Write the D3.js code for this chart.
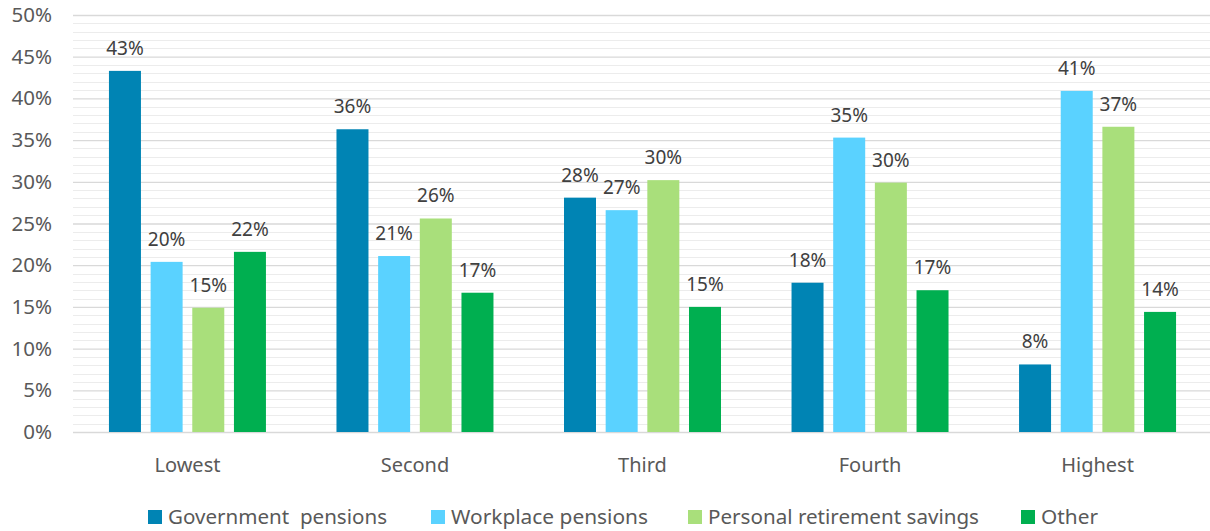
<!DOCTYPE html>
<html>
<head>
<meta charset="utf-8">
<script src="https://cdn.jsdelivr.net/npm/d3@7"></script>
<style>
  html, body { margin: 0; padding: 0; background: #fff; }
  svg { display: block; font-family: "Segoe UI", "Noto Sans", "DejaVu Sans", sans-serif; }
</style>
</head>
<body>
<svg id="chart" width="1210" height="531"></svg>
<script>
// Income quintiles
const categories = ["Lowest", "Second", "Third", "Fourth", "Highest"];

// Share of retirement income by source, per quintile
const seriesNames = ["Government  pensions", "Workplace pensions", "Personal retirement savings", "Other"];
const governmentPensions = [0.433, 0.363, 0.281, 0.179, 0.081];
const workplacePensions  = [0.204, 0.211, 0.266, 0.353, 0.409];
const personalSavings    = [0.149, 0.256, 0.302, 0.299, 0.366];
const otherIncome        = [0.216, 0.167, 0.150, 0.170, 0.144];

const yTicks = [0, 0.05, 0.10, 0.15, 0.20, 0.25, 0.30, 0.35, 0.40, 0.45, 0.50];
const colors = ["#0084B4", "#5AD2FF", "#A9DF7B", "#00AF50"];

const series = [governmentPensions, workplacePensions, personalSavings, otherIncome];

const svg = d3.select("#chart");
const plotLeft = 73, plotRight = 1210, plotTop = 15, plotBottom = 432;
const fontStack = "\"Segoe UI\", \"Noto Sans\", sans-serif";

// Category bands (the last band's outer padding runs just past the right edge)
const x0 = d3.scaleBand().domain(categories).range([plotLeft, 1212])
  .paddingInner(0.31).paddingOuter(0.158);
const x1 = d3.scaleBand().domain(d3.range(series.length)).range([0, x0.bandwidth()])
  .paddingInner(0.232).paddingOuter(0);
const y = d3.scaleLinear().domain([0, 0.5]).range([plotBottom, plotTop]);
const pct = d3.format(".0%");

// Minor gridlines every 1%
const minor = d3.range(0, 0.5001, 0.01).filter(v => Math.round(v * 100) % 5 !== 0);
svg.append("g").selectAll("line").data(minor).join("line")
  .attr("x1", plotLeft).attr("x2", plotRight)
  .attr("y1", d => Math.round(y(d)) + 0.5).attr("y2", d => Math.round(y(d)) + 0.5)
  .attr("stroke", "#ececec").attr("stroke-width", 1);

// Y axis with major gridlines
const yAxis = d3.axisLeft(y).tickValues(yTicks).tickFormat(pct)
  .tickSize(-(plotRight - plotLeft)).tickPadding(21);
const gy = svg.append("g").attr("transform", `translate(${plotLeft},0)`).call(yAxis);
gy.select(".domain").remove();
gy.selectAll(".tick line").attr("stroke", "#d9d9d9").attr("stroke-width", 1.3);
gy.selectAll(".tick text").attr("fill", "#595959").attr("font-size", 20.5)
  .attr("font-family", fontStack);

// X axis labels
const xAxis = d3.axisBottom(x0).tickSize(0).tickPadding(26);
const gx = svg.append("g").attr("transform", `translate(0,${plotBottom})`).call(xAxis);
gx.select(".domain").remove();
gx.selectAll(".tick text").attr("fill", "#595959").attr("font-size", 20)
  .attr("font-family", fontStack);

// Bars
const groups = svg.append("g").selectAll("g").data(categories).join("g")
  .attr("transform", d => `translate(${x0(d)},0)`);

groups.selectAll("rect")
  .data((c, ci) => series.map((s, si) => ({ si, v: s[ci] })))
  .join("rect")
  .attr("x", d => x1(d.si))
  .attr("width", x1.bandwidth())
  .attr("y", d => y(d.v))
  .attr("height", d => y(0) - y(d.v))
  .attr("fill", d => colors[d.si]);

// Value labels
groups.selectAll("text.val")
  .data((c, ci) => series.map((s, si) => ({ si, v: s[ci] })))
  .join("text")
  .attr("class", "val")
  .attr("x", d => x1(d.si) + x1.bandwidth() / 2)
  .attr("y", d => y(d.v) - 16)
  .attr("text-anchor", "middle")
  .attr("fill", "#404040")
  .attr("font-size", 19)
  .text(d => pct(d.v));

// Legend
const legendX = [148, 431, 688, 1021];
const legendTextWidth = [219, 197, 271, 57];
const legend = svg.append("g").selectAll("g").data(seriesNames).join("g")
  .attr("transform", (d, i) => `translate(${legendX[i]},510)`);
legend.append("rect").attr("width", 14).attr("height", 14).attr("fill", (d, i) => colors[i]);
legend.append("text").attr("x", 20).attr("y", 14).attr("fill", "#595959")
  .attr("font-size", 20)
  .attr("xml:space", "preserve")
  .style("white-space", "pre")
  .attr("textLength", (d, i) => legendTextWidth[i])
  .attr("lengthAdjust", "spacingAndGlyphs")
  .text(d => d);
</script>
</body>
</html>
